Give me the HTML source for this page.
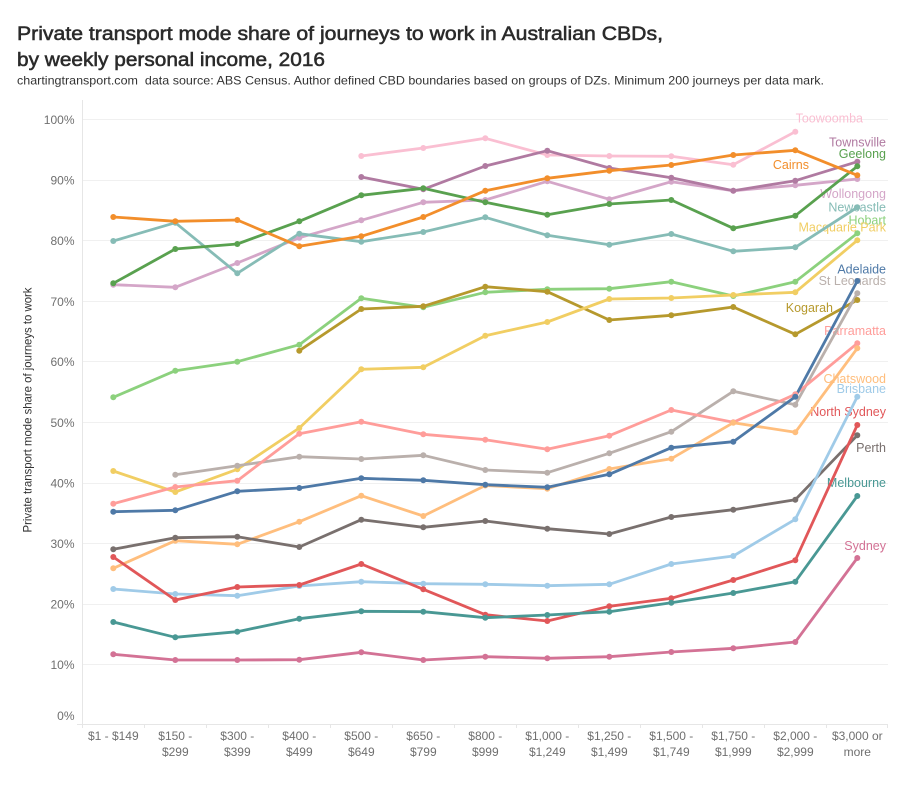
<!DOCTYPE html>
<html><head><meta charset="utf-8"><style>
html,body{margin:0;padding:0;background:#fff;}
svg{display:block;font-family:"Liberation Sans",sans-serif;}
</style></head><body>
<svg width="900" height="800" viewBox="0 0 900 800" xmlns="http://www.w3.org/2000/svg">
<rect width="900" height="800" fill="#fff"/>
<text x="17" y="40" font-size="19.5" fill="#2b2b2b" stroke="#2b2b2b" stroke-width="0.55" textLength="646" lengthAdjust="spacingAndGlyphs">Private transport mode share of journeys to work in Australian CBDs,</text>
<text x="17" y="66" font-size="19.5" fill="#2b2b2b" stroke="#2b2b2b" stroke-width="0.55" textLength="308" lengthAdjust="spacingAndGlyphs">by weekly personal income, 2016</text>
<text x="17" y="84.5" font-size="12" fill="#333" textLength="807" lengthAdjust="spacingAndGlyphs">chartingtransport.com&#160; data source: ABS Census. Author defined CBD boundaries based on groups of DZs. Minimum 200 journeys per data mark.</text>

<g stroke="#f0f0f0" stroke-width="1">
<line x1="82" y1="119.5" x2="888" y2="119.5"/>
<line x1="82" y1="180.5" x2="888" y2="180.5"/>
<line x1="82" y1="240.5" x2="888" y2="240.5"/>
<line x1="82" y1="301.5" x2="888" y2="301.5"/>
<line x1="82" y1="361.5" x2="888" y2="361.5"/>
<line x1="82" y1="422.5" x2="888" y2="422.5"/>
<line x1="82" y1="483.5" x2="888" y2="483.5"/>
<line x1="82" y1="543.5" x2="888" y2="543.5"/>
<line x1="82" y1="604.5" x2="888" y2="604.5"/>
<line x1="82" y1="664.5" x2="888" y2="664.5"/>
</g>
<g stroke="#e6e6e6" stroke-width="1">
<line x1="82.5" y1="100" x2="82.5" y2="728"/>
<line x1="77" y1="724.5" x2="888" y2="724.5"/>
<line x1="144.5" y1="724.5" x2="144.5" y2="728"/>
<line x1="206.5" y1="724.5" x2="206.5" y2="728"/>
<line x1="268.5" y1="724.5" x2="268.5" y2="728"/>
<line x1="330.5" y1="724.5" x2="330.5" y2="728"/>
<line x1="392.5" y1="724.5" x2="392.5" y2="728"/>
<line x1="454.5" y1="724.5" x2="454.5" y2="728"/>
<line x1="516.5" y1="724.5" x2="516.5" y2="728"/>
<line x1="578.5" y1="724.5" x2="578.5" y2="728"/>
<line x1="640.5" y1="724.5" x2="640.5" y2="728"/>
<line x1="702.5" y1="724.5" x2="702.5" y2="728"/>
<line x1="764.5" y1="724.5" x2="764.5" y2="728"/>
<line x1="826.5" y1="724.5" x2="826.5" y2="728"/>
<line x1="887.5" y1="724.5" x2="887.5" y2="728"/>
</g>

<g font-size="12" fill="#6f6f6f" text-anchor="end">
<text x="74.5" y="124">100%</text>
<text x="74.5" y="184.5">90%</text>
<text x="74.5" y="245">80%</text>
<text x="74.5" y="306">70%</text>
<text x="74.5" y="366">60%</text>
<text x="74.5" y="427">50%</text>
<text x="74.5" y="487.5">40%</text>
<text x="74.5" y="548">30%</text>
<text x="74.5" y="608.5">20%</text>
<text x="74.5" y="669">10%</text>
<text x="74.5" y="720">0%</text>
</g>
<text transform="translate(31.5,410) rotate(-90)" font-size="12" fill="#333" text-anchor="middle" textLength="245" lengthAdjust="spacingAndGlyphs">Private transport mode share of journeys to work</text>

<g font-size="12" fill="#6f6f6f" text-anchor="middle">
<text x="113.3" y="740">$1 - $149</text>
<text x="175.3" y="740">$150 -</text><text x="175.3" y="756">$299</text>
<text x="237.3" y="740">$300 -</text><text x="237.3" y="756">$399</text>
<text x="299.3" y="740">$400 -</text><text x="299.3" y="756">$499</text>
<text x="361.3" y="740">$500 -</text><text x="361.3" y="756">$649</text>
<text x="423.3" y="740">$650 -</text><text x="423.3" y="756">$799</text>
<text x="485.3" y="740">$800 -</text><text x="485.3" y="756">$999</text>
<text x="547.3" y="740">$1,000 -</text><text x="547.3" y="756">$1,249</text>
<text x="609.3" y="740">$1,250 -</text><text x="609.3" y="756">$1,499</text>
<text x="671.3" y="740">$1,500 -</text><text x="671.3" y="756">$1,749</text>
<text x="733.3" y="740">$1,750 -</text><text x="733.3" y="756">$1,999</text>
<text x="795.3" y="740">$2,000 -</text><text x="795.3" y="756">$2,999</text>
<text x="857.3" y="740">$3,000 or</text><text x="857.3" y="756">more</text>
</g>

<g font-size="12.5" text-anchor="end">
<text x="863" y="122.5" fill="#fabfd2">Toowoomba</text>
<text x="886" y="146.7" fill="#b07aa1">Townsville</text>
<text x="886" y="158" fill="#59a14f">Geelong</text>
<text x="809" y="169" fill="#f28e2b">Cairns</text>
<text x="886" y="198" fill="#d4a6c8">Wollongong</text>
<text x="886" y="211.7" fill="#86bcb6">Newcastle</text>
<text x="886" y="224.3" fill="#8cd17d">Hobart</text>
<text x="886" y="231.7" fill="#f1ce63">Macquarie Park</text>
<text x="886" y="273.5" fill="#4e79a7">Adelaide</text>
<text x="886" y="285" fill="#bab0ac">St Leonards</text>
<text x="833" y="312" fill="#b6992d">Kogarah</text>
<text x="886" y="335" fill="#ff9d9a">Parramatta</text>
<text x="886" y="383" fill="#ffbe7d">Chatswood</text>
<text x="886" y="393" fill="#a0cbe8">Brisbane</text>
<text x="886" y="416" fill="#e15759">North Sydney</text>
<text x="886" y="452" fill="#79706e">Perth</text>
<text x="886" y="487" fill="#499894">Melbourne</text>
<text x="886" y="550" fill="#d37295">Sydney</text>
</g>

<g fill="none" stroke-width="2.8" stroke-linejoin="round" stroke-linecap="round">
<polyline stroke="#fabfd2" points="361.3,156 423.3,148 485.3,138.3 547.3,155 609.3,156 671.3,156.3 733.3,164.7 795.3,131.7"/>
<polyline stroke="#d4a6c8" points="113.3,284.7 175.3,287.3 237.3,263 299.3,237.7 361.3,220.3 423.3,202.3 485.3,200 547.3,181.3 609.3,199.3 671.3,181.7 733.3,190.7 795.3,185.3 857.3,179"/>
<polyline stroke="#b07aa1" points="361.3,177 423.3,189.3 485.3,166 547.3,150.7 609.3,168 671.3,177.7 733.3,190.7 795.3,180.7 857.3,161.7"/>
<polyline stroke="#86bcb6" points="113.3,241 175.3,222.7 237.3,273.3 299.3,233.7 361.3,241.7 423.3,232 485.3,217.3 547.3,235.3 609.3,244.7 671.3,234 733.3,251.3 795.3,247.3 857.3,207.3"/>
<polyline stroke="#59a14f" points="113.3,283.3 175.3,249 237.3,244 299.3,221.3 361.3,195.3 423.3,188.3 485.3,202.3 547.3,214.7 609.3,204 671.3,200 733.3,228.3 795.3,215.7 857.3,166.3"/>
<polyline stroke="#f28e2b" points="113.3,217 175.3,221.3 237.3,220 299.3,246.3 361.3,236.3 423.3,217 485.3,190.7 547.3,178.3 609.3,170.7 671.3,165 733.3,155 795.3,150.3 857.3,175.3"/>
<polyline stroke="#8cd17d" points="113.3,397.3 175.3,370.7 237.3,361.7 299.3,344.7 361.3,298.3 423.3,307.3 485.3,292.3 547.3,289.3 609.3,288.7 671.3,281.7 733.3,296 795.3,281.7 857.3,233.3"/>
<polyline stroke="#b6992d" points="299.3,350.7 361.3,309 423.3,306.3 485.3,286.7 547.3,291.7 609.3,320 671.3,315.3 733.3,307 795.3,334.3 857.3,300"/>
<polyline stroke="#f1ce63" points="113.3,471 175.3,492 237.3,469.3 299.3,428 361.3,369.3 423.3,367.3 485.3,335.7 547.3,322 609.3,299 671.3,298 733.3,295 795.3,292.3 857.3,240.3"/>
<polyline stroke="#bab0ac" points="175.3,474.7 237.3,465.7 299.3,456.7 361.3,459 423.3,455.3 485.3,470 547.3,472.7 609.3,453.3 671.3,431.7 733.3,391.3 795.3,404.7 857.3,293.3"/>
<polyline stroke="#ff9d9a" points="113.3,503.7 175.3,487 237.3,480.7 299.3,433.7 361.3,421.7 423.3,434.3 485.3,439.7 547.3,449.3 609.3,435.7 671.3,410 733.3,422.3 795.3,394.3 857.3,343.3"/>
<polyline stroke="#ffbe7d" points="113.3,568.3 175.3,540.7 237.3,544.3 299.3,521.7 361.3,495.7 423.3,516 485.3,485.5 547.3,488.7 609.3,469 671.3,458.7 733.3,422.7 795.3,432.3 857.3,348.3"/>
<polyline stroke="#4e79a7" points="113.3,511.7 175.3,510.3 237.3,491.3 299.3,488 361.3,478.3 423.3,480.3 485.3,484.7 547.3,487.3 609.3,474.3 671.3,447.7 733.3,441.7 795.3,396.7 857.3,281"/>
<polyline stroke="#79706e" points="113.3,549.3 175.3,537.7 237.3,536.7 299.3,547 361.3,519.7 423.3,527.3 485.3,521 547.3,528.7 609.3,534 671.3,517 733.3,509.7 795.3,499.7 857.3,435.3"/>
<polyline stroke="#a0cbe8" points="113.3,589 175.3,594 237.3,595.7 299.3,586 361.3,581.7 423.3,583.7 485.3,584.3 547.3,585.7 609.3,584.3 671.3,564 733.3,556 795.3,519.3 857.3,396.7"/>
<polyline stroke="#e15759" points="113.3,557 175.3,600 237.3,587 299.3,585 361.3,564 423.3,589.3 485.3,614.7 547.3,621 609.3,606.3 671.3,598.3 733.3,580 795.3,560.3 857.3,425"/>
<polyline stroke="#499894" points="113.3,622 175.3,637.3 237.3,631.7 299.3,618.7 361.3,611.3 423.3,611.7 485.3,617.7 547.3,615 609.3,611.7 671.3,602.7 733.3,593 795.3,581.7 857.3,496"/>
<polyline stroke="#d37295" points="113.3,654.3 175.3,660 237.3,660 299.3,659.7 361.3,652.3 423.3,660 485.3,656.7 547.3,658.3 609.3,656.7 671.3,652 733.3,648.3 795.3,642 857.3,558"/>
</g>

<g>
<g fill="#fabfd2"><circle cx="361.3" cy="156" r="3"/><circle cx="423.3" cy="148" r="3"/><circle cx="485.3" cy="138.3" r="3"/><circle cx="547.3" cy="155" r="3"/><circle cx="609.3" cy="156" r="3"/><circle cx="671.3" cy="156.3" r="3"/><circle cx="733.3" cy="164.7" r="3"/><circle cx="795.3" cy="131.7" r="3"/></g>
<g fill="#d4a6c8"><circle cx="113.3" cy="284.7" r="3"/><circle cx="175.3" cy="287.3" r="3"/><circle cx="237.3" cy="263" r="3"/><circle cx="299.3" cy="237.7" r="3"/><circle cx="361.3" cy="220.3" r="3"/><circle cx="423.3" cy="202.3" r="3"/><circle cx="485.3" cy="200" r="3"/><circle cx="547.3" cy="181.3" r="3"/><circle cx="609.3" cy="199.3" r="3"/><circle cx="671.3" cy="181.7" r="3"/><circle cx="733.3" cy="190.7" r="3"/><circle cx="795.3" cy="185.3" r="3"/><circle cx="857.3" cy="179" r="3"/></g>
<g fill="#b07aa1"><circle cx="361.3" cy="177" r="3"/><circle cx="423.3" cy="189.3" r="3"/><circle cx="485.3" cy="166" r="3"/><circle cx="547.3" cy="150.7" r="3"/><circle cx="609.3" cy="168" r="3"/><circle cx="671.3" cy="177.7" r="3"/><circle cx="733.3" cy="190.7" r="3"/><circle cx="795.3" cy="180.7" r="3"/><circle cx="857.3" cy="161.7" r="3"/></g>
<g fill="#86bcb6"><circle cx="113.3" cy="241" r="3"/><circle cx="175.3" cy="222.7" r="3"/><circle cx="237.3" cy="273.3" r="3"/><circle cx="299.3" cy="233.7" r="3"/><circle cx="361.3" cy="241.7" r="3"/><circle cx="423.3" cy="232" r="3"/><circle cx="485.3" cy="217.3" r="3"/><circle cx="547.3" cy="235.3" r="3"/><circle cx="609.3" cy="244.7" r="3"/><circle cx="671.3" cy="234" r="3"/><circle cx="733.3" cy="251.3" r="3"/><circle cx="795.3" cy="247.3" r="3"/><circle cx="857.3" cy="207.3" r="3"/></g>
<g fill="#59a14f"><circle cx="113.3" cy="283.3" r="3"/><circle cx="175.3" cy="249" r="3"/><circle cx="237.3" cy="244" r="3"/><circle cx="299.3" cy="221.3" r="3"/><circle cx="361.3" cy="195.3" r="3"/><circle cx="423.3" cy="188.3" r="3"/><circle cx="485.3" cy="202.3" r="3"/><circle cx="547.3" cy="214.7" r="3"/><circle cx="609.3" cy="204" r="3"/><circle cx="671.3" cy="200" r="3"/><circle cx="733.3" cy="228.3" r="3"/><circle cx="795.3" cy="215.7" r="3"/><circle cx="857.3" cy="166.3" r="3"/></g>
<g fill="#f28e2b"><circle cx="113.3" cy="217" r="3"/><circle cx="175.3" cy="221.3" r="3"/><circle cx="237.3" cy="220" r="3"/><circle cx="299.3" cy="246.3" r="3"/><circle cx="361.3" cy="236.3" r="3"/><circle cx="423.3" cy="217" r="3"/><circle cx="485.3" cy="190.7" r="3"/><circle cx="547.3" cy="178.3" r="3"/><circle cx="609.3" cy="170.7" r="3"/><circle cx="671.3" cy="165" r="3"/><circle cx="733.3" cy="155" r="3"/><circle cx="795.3" cy="150.3" r="3"/><circle cx="857.3" cy="175.3" r="3"/></g>
<g fill="#8cd17d"><circle cx="113.3" cy="397.3" r="3"/><circle cx="175.3" cy="370.7" r="3"/><circle cx="237.3" cy="361.7" r="3"/><circle cx="299.3" cy="344.7" r="3"/><circle cx="361.3" cy="298.3" r="3"/><circle cx="423.3" cy="307.3" r="3"/><circle cx="485.3" cy="292.3" r="3"/><circle cx="547.3" cy="289.3" r="3"/><circle cx="609.3" cy="288.7" r="3"/><circle cx="671.3" cy="281.7" r="3"/><circle cx="733.3" cy="296" r="3"/><circle cx="795.3" cy="281.7" r="3"/><circle cx="857.3" cy="233.3" r="3"/></g>
<g fill="#b6992d"><circle cx="299.3" cy="350.7" r="3"/><circle cx="361.3" cy="309" r="3"/><circle cx="423.3" cy="306.3" r="3"/><circle cx="485.3" cy="286.7" r="3"/><circle cx="547.3" cy="291.7" r="3"/><circle cx="609.3" cy="320" r="3"/><circle cx="671.3" cy="315.3" r="3"/><circle cx="733.3" cy="307" r="3"/><circle cx="795.3" cy="334.3" r="3"/><circle cx="857.3" cy="300" r="3"/></g>
<g fill="#f1ce63"><circle cx="113.3" cy="471" r="3"/><circle cx="175.3" cy="492" r="3"/><circle cx="237.3" cy="469.3" r="3"/><circle cx="299.3" cy="428" r="3"/><circle cx="361.3" cy="369.3" r="3"/><circle cx="423.3" cy="367.3" r="3"/><circle cx="485.3" cy="335.7" r="3"/><circle cx="547.3" cy="322" r="3"/><circle cx="609.3" cy="299" r="3"/><circle cx="671.3" cy="298" r="3"/><circle cx="733.3" cy="295" r="3"/><circle cx="795.3" cy="292.3" r="3"/><circle cx="857.3" cy="240.3" r="3"/></g>
<g fill="#bab0ac"><circle cx="175.3" cy="474.7" r="3"/><circle cx="237.3" cy="465.7" r="3"/><circle cx="299.3" cy="456.7" r="3"/><circle cx="361.3" cy="459" r="3"/><circle cx="423.3" cy="455.3" r="3"/><circle cx="485.3" cy="470" r="3"/><circle cx="547.3" cy="472.7" r="3"/><circle cx="609.3" cy="453.3" r="3"/><circle cx="671.3" cy="431.7" r="3"/><circle cx="733.3" cy="391.3" r="3"/><circle cx="795.3" cy="404.7" r="3"/><circle cx="857.3" cy="293.3" r="3"/></g>
<g fill="#ff9d9a"><circle cx="113.3" cy="503.7" r="3"/><circle cx="175.3" cy="487" r="3"/><circle cx="237.3" cy="480.7" r="3"/><circle cx="299.3" cy="433.7" r="3"/><circle cx="361.3" cy="421.7" r="3"/><circle cx="423.3" cy="434.3" r="3"/><circle cx="485.3" cy="439.7" r="3"/><circle cx="547.3" cy="449.3" r="3"/><circle cx="609.3" cy="435.7" r="3"/><circle cx="671.3" cy="410" r="3"/><circle cx="733.3" cy="422.3" r="3"/><circle cx="795.3" cy="394.3" r="3"/><circle cx="857.3" cy="343.3" r="3"/></g>
<g fill="#ffbe7d"><circle cx="113.3" cy="568.3" r="3"/><circle cx="175.3" cy="540.7" r="3"/><circle cx="237.3" cy="544.3" r="3"/><circle cx="299.3" cy="521.7" r="3"/><circle cx="361.3" cy="495.7" r="3"/><circle cx="423.3" cy="516" r="3"/><circle cx="485.3" cy="485.5" r="3"/><circle cx="547.3" cy="488.7" r="3"/><circle cx="609.3" cy="469" r="3"/><circle cx="671.3" cy="458.7" r="3"/><circle cx="733.3" cy="422.7" r="3"/><circle cx="795.3" cy="432.3" r="3"/><circle cx="857.3" cy="348.3" r="3"/></g>
<g fill="#4e79a7"><circle cx="113.3" cy="511.7" r="3"/><circle cx="175.3" cy="510.3" r="3"/><circle cx="237.3" cy="491.3" r="3"/><circle cx="299.3" cy="488" r="3"/><circle cx="361.3" cy="478.3" r="3"/><circle cx="423.3" cy="480.3" r="3"/><circle cx="485.3" cy="484.7" r="3"/><circle cx="547.3" cy="487.3" r="3"/><circle cx="609.3" cy="474.3" r="3"/><circle cx="671.3" cy="447.7" r="3"/><circle cx="733.3" cy="441.7" r="3"/><circle cx="795.3" cy="396.7" r="3"/><circle cx="857.3" cy="281" r="3"/></g>
<g fill="#79706e"><circle cx="113.3" cy="549.3" r="3"/><circle cx="175.3" cy="537.7" r="3"/><circle cx="237.3" cy="536.7" r="3"/><circle cx="299.3" cy="547" r="3"/><circle cx="361.3" cy="519.7" r="3"/><circle cx="423.3" cy="527.3" r="3"/><circle cx="485.3" cy="521" r="3"/><circle cx="547.3" cy="528.7" r="3"/><circle cx="609.3" cy="534" r="3"/><circle cx="671.3" cy="517" r="3"/><circle cx="733.3" cy="509.7" r="3"/><circle cx="795.3" cy="499.7" r="3"/><circle cx="857.3" cy="435.3" r="3"/></g>
<g fill="#a0cbe8"><circle cx="113.3" cy="589" r="3"/><circle cx="175.3" cy="594" r="3"/><circle cx="237.3" cy="595.7" r="3"/><circle cx="299.3" cy="586" r="3"/><circle cx="361.3" cy="581.7" r="3"/><circle cx="423.3" cy="583.7" r="3"/><circle cx="485.3" cy="584.3" r="3"/><circle cx="547.3" cy="585.7" r="3"/><circle cx="609.3" cy="584.3" r="3"/><circle cx="671.3" cy="564" r="3"/><circle cx="733.3" cy="556" r="3"/><circle cx="795.3" cy="519.3" r="3"/><circle cx="857.3" cy="396.7" r="3"/></g>
<g fill="#e15759"><circle cx="113.3" cy="557" r="3"/><circle cx="175.3" cy="600" r="3"/><circle cx="237.3" cy="587" r="3"/><circle cx="299.3" cy="585" r="3"/><circle cx="361.3" cy="564" r="3"/><circle cx="423.3" cy="589.3" r="3"/><circle cx="485.3" cy="614.7" r="3"/><circle cx="547.3" cy="621" r="3"/><circle cx="609.3" cy="606.3" r="3"/><circle cx="671.3" cy="598.3" r="3"/><circle cx="733.3" cy="580" r="3"/><circle cx="795.3" cy="560.3" r="3"/><circle cx="857.3" cy="425" r="3"/></g>
<g fill="#499894"><circle cx="113.3" cy="622" r="3"/><circle cx="175.3" cy="637.3" r="3"/><circle cx="237.3" cy="631.7" r="3"/><circle cx="299.3" cy="618.7" r="3"/><circle cx="361.3" cy="611.3" r="3"/><circle cx="423.3" cy="611.7" r="3"/><circle cx="485.3" cy="617.7" r="3"/><circle cx="547.3" cy="615" r="3"/><circle cx="609.3" cy="611.7" r="3"/><circle cx="671.3" cy="602.7" r="3"/><circle cx="733.3" cy="593" r="3"/><circle cx="795.3" cy="581.7" r="3"/><circle cx="857.3" cy="496" r="3"/></g>
<g fill="#d37295"><circle cx="113.3" cy="654.3" r="3"/><circle cx="175.3" cy="660" r="3"/><circle cx="237.3" cy="660" r="3"/><circle cx="299.3" cy="659.7" r="3"/><circle cx="361.3" cy="652.3" r="3"/><circle cx="423.3" cy="660" r="3"/><circle cx="485.3" cy="656.7" r="3"/><circle cx="547.3" cy="658.3" r="3"/><circle cx="609.3" cy="656.7" r="3"/><circle cx="671.3" cy="652" r="3"/><circle cx="733.3" cy="648.3" r="3"/><circle cx="795.3" cy="642" r="3"/><circle cx="857.3" cy="558" r="3"/></g>
</g>
</svg>
</body></html>
